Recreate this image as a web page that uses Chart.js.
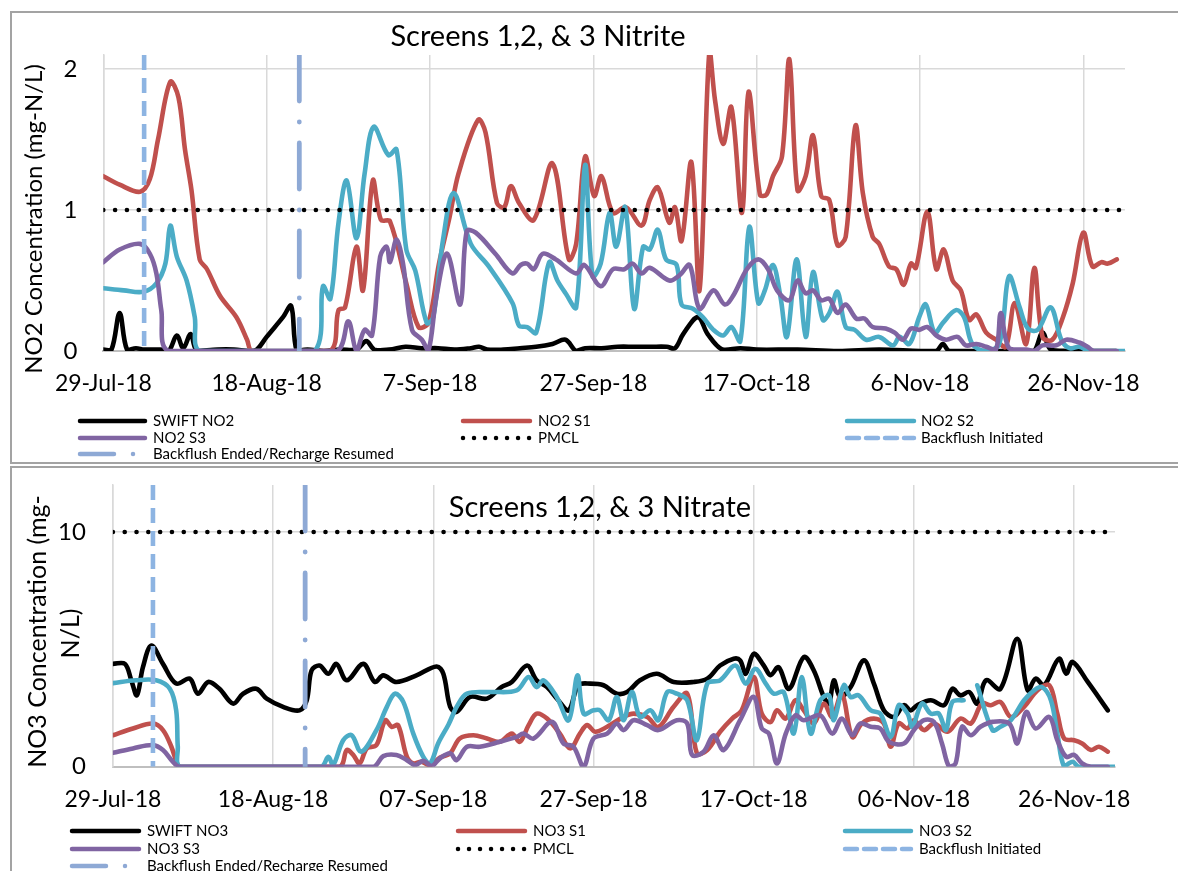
<!DOCTYPE html>
<html><head><meta charset="utf-8">
<script src="https://cdn.jsdelivr.net/npm/chart.js@4.4.1/dist/chart.umd.min.js"></script>
<style>
html,body{margin:0;padding:0;background:#fff;width:1178px;height:871px;overflow:hidden;}
.frame{position:absolute;border:2px solid #A3A3A3;box-sizing:border-box;}
#f1{left:10px;top:11px;width:1190px;height:453px;}
#f2{left:10px;top:466px;width:1190px;height:430px;}
.wrap{position:absolute;}
#w1{left:11px;top:13px;width:1167px;height:449px;}
#w2{left:11px;top:468px;width:1167px;height:403px;}
</style></head><body>
<div class="frame" id="f1"></div><div class="frame" id="f2"></div>
<div class="wrap" id="w1"><canvas id="c1" width="1167" height="449"></canvas></div>
<div class="wrap" id="w2"><canvas id="c2" width="1167" height="403"></canvas></div>
<script>
// ---------- shared axis data (days since 29-Jul-18) ----------
const xTickDays = [0, 20, 40, 60, 80, 100, 120];
const no2XTickLabels = ['29-Jul-18','18-Aug-18','7-Sep-18','27-Sep-18','17-Oct-18','6-Nov-18','26-Nov-18'];
const no3XTickLabels = ['29-Jul-18','18-Aug-18','07-Sep-18','27-Sep-18','17-Oct-18','06-Nov-18','26-Nov-18'];
const no2YTicks = [0, 1, 2];
const no3YTicks = [0, 10];

// ---------- Nitrite (NO2) ----------
const no2Names = ['SWIFT NO2','NO2 S1','NO2 S2','NO2 S3','PMCL','Backflush Initiated','Backflush Ended/Recharge Resumed'];
const swiftNo2Days = [0,1,2,2.9,4,5,7,8,9,9.8,10.7,11.5,14,16,18,18.8,20,22,23,23.7,25,27,29,31,32.2,33.2,35,37,39,41,43,45,46,47,49,51,53,55,56.6,57.9,59,61,63,65,67,69,70,71,72.8,74,75.8,78,80,85,90,95,100,102,102.8,103.6,108,113,114,115,116,118,121,124];
const swiftNo2Vals = [0.01,0.01,0.27,0.01,0.02,0.01,0.01,0,0.11,0.02,0.12,0,0.01,0.01,0,0.01,0.1,0.24,0.32,0,0.01,0,0.01,0.01,0.07,0.01,0.01,0.03,0.02,0.02,0.01,0.02,0.03,0.01,0.01,0.02,0.03,0.05,0.08,0,0.02,0.02,0.03,0.03,0.03,0.03,0.02,0.12,0.24,0.12,0.01,0.02,0.01,0.01,0,0.01,0,0,0.05,0,0,0,0,0.13,0.01,0,0,0];
const no2S1Days = [0,2,4.5,5.7,6.7,8.2,9.2,10,10.8,11.8,12.7,14.3,16.3,17.6,18.2,22,27.8,28.8,29.6,31,31.8,33,34,35.1,37.1,38.6,39.8,41.1,42.4,43.5,45.9,46.8,48.2,49.1,49.9,50.9,52.7,55,57,57.9,59,60.1,61,62.4,64,65.9,66.9,67.9,69.3,70,70.8,72,73,74.2,74.9,75.9,76.9,78.2,79,80.4,81.2,82,83.1,84,85,86,86.9,87.9,88.9,89.9,90.9,92.1,93,94.2,95,96.2,97.1,98,98.9,99.5,100.9,102,102.9,104,105,106,106.9,108.1,109.3,110.5,111.6,113,114,115,116.2,117.5,118.7,120,121.1,122.2,123,124.1];
const no2S1Vals = [1.24,1.18,1.13,1.22,1.5,1.91,1.8,1.43,1.14,0.65,0.58,0.39,0.24,0.08,0,0,0,0.29,0.31,0.74,0.43,1.21,0.93,0.92,0.48,0.17,0.2,0.62,0.95,1.26,1.64,1.55,1.05,1.02,1.17,1.05,0.93,1.33,0.65,0.76,1.38,1.1,1.24,0.98,1.02,0.89,1.07,1.16,0.91,1.02,0.78,1.34,0.43,2.12,1.78,1.47,1.73,0.98,1.84,1.11,1.11,1.24,1.38,2.07,1.14,1.24,1.53,1.1,1.07,0.75,0.81,1.6,1.12,0.81,0.76,0.6,0.58,0.47,0.62,0.59,0.99,0.58,0.72,0.5,0.43,0.22,0.26,0.13,0.08,0.03,0.34,0.05,0.59,0.1,0.08,0.24,0.48,0.84,0.6,0.63,0.62,0.65];
const no2S2Days = [0,2.5,4.9,6.5,7.6,8.2,9,10.2,11.2,11.8,20,25.9,26.9,27.8,28.8,29.8,31,32,33.1,34.9,35.9,37.1,38.2,39.6,40.4,41.6,42.9,45,47.2,50.1,50.9,51.9,53,54.6,55.6,56.6,57.9,59,59.9,60.9,62,62.8,63.9,65,66.1,66.9,67.9,68.9,70.2,70.8,72.2,73.4,74.7,75.9,76.9,78,79.1,80.2,81,82,82.9,83.7,84.9,86,86.9,88.1,88.9,89.9,90.9,92,93.4,95,96.7,97.5,98.7,99.9,100.7,101.8,102.8,104.4,105.4,106.4,108,109.7,110.9,112.2,113.2,114.4,116,117.3,118.3,119.5,120.7,125.1];
const no2S2Vals = [0.445,0.43,0.42,0.48,0.62,0.89,0.67,0.5,0.24,0,0,0,0.46,0.37,0.91,1.21,0.8,1.26,1.59,1.39,1.43,0.72,0.57,0.2,0.24,0.79,1.12,0.76,0.6,0.34,0.18,0.17,0.13,0.63,0.5,0.41,0.31,1.32,0.53,0.62,0.98,0.74,1.02,0.3,0.74,0.72,0.86,0.65,0.61,0.33,0.3,0.24,0.15,0.11,0.17,0.07,0.88,0.34,0.43,0.61,0.39,0.1,0.65,0.1,0.56,0.22,0.27,0.42,0.17,0.15,0.08,0.1,0.04,0.1,0.05,0.24,0.33,0.13,0.2,0.29,0.24,0.05,0,0.05,0.53,0.31,0.16,0.15,0.31,0.08,0.02,0.03,0,0];
const no2S3Days = [0,2,4.5,5.7,6.5,7.1,8,20,28.6,30,31,32,32.9,33.9,34.7,35.1,35.9,36.7,37.8,39,39.8,40.8,42.1,43.7,44.5,45.6,48,50.1,51.1,51.9,52.7,53.8,55.4,57.9,58.9,60.9,62.4,63.8,64.8,65.9,66.9,69.3,70.6,71.8,73,74.7,76.1,77.1,78.8,80.2,81.4,82.5,84,85,86,86.9,87.9,88.9,89.9,90.9,92.2,93.2,94.2,95.8,96.9,97.9,98.9,99.9,100.9,102,103.2,104.6,105.6,106.9,108.1,109.3,109.9,110.9,113,114,115,116.7,117.9,119.5,120.5,121.3,124.1];
const no2S3Vals = [0.63,0.72,0.76,0.69,0.55,0.29,0,0,0,0.21,0,0.15,0.11,0.67,0.74,0.63,0.79,0.62,0.15,0.08,0,0.39,0.69,0.33,0.85,0.84,0.69,0.55,0.61,0.62,0.58,0.69,0.65,0.55,0.61,0.46,0.58,0.58,0.62,0.55,0.59,0.5,0.54,0.61,0.3,0.43,0.33,0.39,0.58,0.65,0.58,0.43,0.36,0.5,0.41,0.43,0.36,0.37,0.27,0.33,0.23,0.23,0.17,0.16,0.13,0.08,0.16,0.15,0.17,0.11,0.08,0.1,0.04,0.05,0.03,0.01,0.27,0.02,0.01,0,0.04,0.04,0.08,0.06,0.03,0,0];
const no2PmclDays = [0, 125.1];
const no2PmclVals = [1, 1];
const no2InitDays = [5, 5];
const no2InitVals = [2.1, 0];
const no2EndDays = [24, 24];
const no2EndVals = [2.1, 0];

// ---------- Nitrate (NO3) ----------
const no3Names = ['SWIFT NO3','NO3 S1','NO3 S2','NO3 S3','PMCL','Backflush Initiated','Backflush Ended/Recharge Resumed'];
const swiftNo3Days = [0,1.5,2.3,3,3.75,4.8,6.25,7.9,9.6,10.6,11.9,13.3,15,16.25,17.9,19.2,21.25,23.3,24.2,24.8,25.8,26.9,27.9,29.2,31.25,32.7,33.75,35.4,37.9,40.4,41.25,42.1,42.9,44.6,46.7,48.5,49.8,51.7,52.9,54.2,55.6,56.9,58.1,59.6,61.25,62.9,64.2,65.8,67.9,70,72.5,74.2,75.8,77.5,78.3,79,80,81.25,82.1,83.1,84.4,86.25,87.5,88.75,89.4,90,90.8,92.1,93.75,95,96.25,97.5,98.75,99.6,100.4,102.1,103.75,104.8,105.8,106.9,107.9,109,110.8,112.9,114.2,115.2,116.25,118.1,119,119.8,121.7,124.2];
const swiftNo3Vals = [4.38,4.38,3.68,3.04,4.24,5.16,4.38,3.54,3.75,3.11,3.61,3.32,2.69,3.11,3.32,2.9,2.55,2.4,2.83,4.1,4.31,3.96,4.38,3.68,4.38,3.61,3.89,3.61,3.89,4.27,3.96,2.55,2.33,2.97,2.9,3.39,3.61,4.31,3.68,3.39,2.83,2.4,3.47,3.54,3.47,3.11,3.18,3.68,3.96,3.61,3.61,3.75,4.31,4.6,4.53,3.96,4.81,4.31,3.9,4.24,3.32,4.67,4.1,2.97,2.69,3.68,2.97,3.39,4.53,3.54,2.4,2.12,2.62,2.4,2.62,2.83,2.62,3.32,3.04,3.18,2.69,3.68,3.32,5.45,3.25,3.75,3.47,4.6,3.96,4.46,3.61,2.4];
const no3S1Days = [0,2.5,5,6.25,7.3,8.1,8.5,20,28.3,29.2,30,30.8,31.7,32.9,34,34.8,35.6,36.7,37.5,38.5,39.6,40.8,42.1,43.3,45,46.7,48.3,49.8,50.8,51.9,52.9,54.2,55.8,57.1,58.3,59.2,60.2,61.7,63.75,65,66.7,68.1,70,71.7,72.9,74.2,75.8,77.3,78.5,80,81,82.1,82.9,84,85.2,86.25,87.5,88.75,89.8,91,92.3,93.5,95,96.25,97.1,98.1,99.2,100,101.25,102.5,104.2,105.8,107.1,108.5,109.6,110.8,112.1,113.75,115.4,116.9,117.9,118.75,120,121,122.1,123.1,124.2];
const no3S1Vals = [1.34,1.63,1.84,1.56,0.85,0.07,0,0,0,0.71,0.5,0.14,0.78,0.92,1.98,1.7,1.77,0.42,0.14,0.21,0.07,0.38,0.57,1.2,1.34,1.2,1.06,1.41,1.06,1.77,2.26,2.05,1.41,0.78,1.41,1.77,1.49,1.7,2.12,2.26,2.12,1.7,2.55,3.11,0.57,0.71,1.49,2.05,2.4,3.82,2.26,1.9,2.4,2.05,2.83,2.4,1.84,2.69,2.12,3.11,1.27,1.84,2.05,1.84,0.85,1.84,1.63,1.98,1.56,1.84,1.49,2.05,1.84,2.69,2.62,2.76,2.12,2.55,3.25,3.47,2.26,1.2,1.13,0.99,0.71,0.85,0.64];
const no3S2Days = [0,2.9,5.4,7.1,7.9,8.1,8.4,20,26,26.9,27.5,28.75,29.8,31,32.9,34.2,35.2,36.25,37.5,38.75,39.6,40.6,41.9,43,44.2,47.1,50.4,51.9,52.9,53.75,55.4,56.9,58,58.75,60,60.8,61.9,62.9,63.75,64.8,65.8,67.1,68.1,69.2,70.4,71.7,72.9,74.2,75.8,77.7,79,80.2,81.5,82.5,83.75,85,86,87.1,88.3,89.4,90,91.25,92.1,93.1,94.6,95.8,97.1,98.1,99.2,99.8,101,102.1,103.1,104,104.8,106.2,107,107.9,109.8,110.8,112.1,113.75,115,116,117.1,117.9,118.75,119.8,120.6,125.1];
const no3S2Vals = [3.56,3.68,3.68,3.32,2.4,0.85,0,0,0,0.42,0.07,1.13,1.34,0.64,1.56,2.55,3.11,2.76,1.41,0.42,0.14,0.99,1.8,2.6,3.11,3.18,3.25,3.82,3.39,3.68,2.97,1.98,3.89,2.26,2.4,2.4,1.98,2.97,1.98,3.18,2.12,2.4,1.98,3.18,3.11,2.83,1.13,3.54,3.68,4.31,3.54,4.17,3.54,3.11,3.18,1.41,3.82,1.41,2.83,3.04,1.98,3.47,2.97,3.04,2.4,2.26,1.27,2.62,2.26,1.7,2.69,2.26,2.26,1.56,2.76,2.83,null,3.47,1.56,1.7,1.98,2.83,3.25,3.39,2.83,1.41,0,0.21,0,0];
const no3S3Days = [0,2.5,5,6.25,7.5,8.3,20,32.5,33.75,35.4,36.7,37.7,38.75,39.8,40.8,42.1,42.9,44.2,45.8,48.3,50.4,51.25,52.5,54.8,56.25,57.5,58.75,60,61.7,62.9,63.75,65,66.7,68.1,70.4,71.7,72.3,73.75,75,76.25,78.3,80,81,81.9,82.9,84,85.2,86.25,88.3,89.8,91,92.3,93.3,94.6,95.8,96.9,98.75,100,101.25,102.5,103.5,104.4,105.2,106,107.1,108.3,109.8,111.9,112.9,114,115.2,116.9,117.9,119,120,121,122.1,124.2];
const no3S3Vals = [0.59,0.78,0.92,0.71,0.21,0,0,0,0.45,0.5,0.28,0.07,0.25,0.03,0.35,0.57,0.28,0.85,0.85,1.06,1.27,1.41,1.2,1.91,0.99,0.85,0,1.2,1.41,1.84,1.56,1.98,1.77,1.56,1.98,1.84,0.5,0.64,1.34,0.71,1.98,2.97,1.63,1.41,0.14,1.41,2.19,1.98,2.19,1.41,2.05,1.34,1.84,1.7,1.63,1.06,0.99,1.56,1.98,1.91,0.99,0,0.14,1.7,1.34,1.7,1.91,1.84,0.99,2.33,1.63,2.12,1.13,0.42,0.5,0.14,0,0];
const no3PmclDays = [0, 125.1];
const no3PmclVals = [10, 10];
const no3InitDays = [5, 5];
const no3InitVals = [12, 0];
const no3EndDays = [24, 24];
const no3EndVals = [12, 0];

// ---------- styling ----------
const COLORS = ['#000000', '#C0504D', '#4BACC6', '#8064A2', '#000000', '#8DB4E2', '#8EA9D5'];
const FONT = 'Lato';
const pts = (d, v) => d.map((x, i) => ({x: x, y: v[i]}));

function seriesDatasets(names, series) {
  return series.map((s, i) => {
    const base = {label: names[i], data: pts(s[0], s[1]), showLine: true, pointRadius: 0, pointHoverRadius: 0,
      borderColor: COLORS[i], backgroundColor: COLORS[i], borderWidth: 4.6, fill: false, spanGaps: false,
      order: 10 - i, borderJoinStyle: 'round', borderCapStyle: 'round', tension: 0.35};
    if (i === 4) Object.assign(base, {tension: 0, borderDash: [0.01, 11.8], borderCapStyle: 'round'});
    if (i === 5) Object.assign(base, {tension: 0, borderDash: [15, 8], borderCapStyle: 'butt'});
    if (i === 6) Object.assign(base, {tension: 0, borderDash: [46, 21, 0.01, 21], borderCapStyle: 'round', borderWidth: 4.8});
    return base;
  });
}

function legendPlugin(rows, cols) {
  return {id: 'sheetLegend', afterDraw(chart) {
    const ctx = chart.ctx; ctx.save();
    chart.data.datasets.forEach((ds, i) => {
      const r = Math.floor(i / 3), c = i % 3, y = rows[r], [x1, x2, tx] = cols[c];
      ctx.strokeStyle = ds.borderColor; ctx.lineWidth = 4.5;
      if (i === 4) { ctx.setLineDash([0.01, 11]); ctx.lineCap = 'round'; ctx.beginPath(); ctx.moveTo(x1 + 2, y); ctx.lineTo(x2, y); ctx.stroke(); }
      else if (i === 5) { ctx.setLineDash([12, 7]); ctx.lineCap = 'round'; ctx.beginPath(); ctx.moveTo(x1 + 2, y); ctx.lineTo(x2 - 2, y); ctx.stroke(); }
      else if (i === 6) { ctx.setLineDash([34, 19, 0.01, 40]); ctx.lineCap = 'round'; ctx.beginPath(); ctx.moveTo(x1 + 2, y); ctx.lineTo(x2, y); ctx.stroke(); }
      else { ctx.setLineDash([]); ctx.lineCap = 'round'; ctx.beginPath(); ctx.moveTo(x1 + 2, y); ctx.lineTo(x2 - 2, y); ctx.stroke(); }
      ctx.setLineDash([]);
      ctx.fillStyle = '#000'; ctx.font = '15px ' + FONT; ctx.textAlign = 'left'; ctx.textBaseline = 'middle';
      ctx.fillText(ds.label, tx, y + 0.5);
    });
    ctx.restore();
  }};
}

function textPlugin(texts) {
  return {id: 'sheetTexts', afterDraw(chart) {
    const ctx = chart.ctx;
    texts.forEach(t => {
      ctx.save(); ctx.translate(t.x, t.y); ctx.rotate(t.rot || 0);
      ctx.font = t.font; ctx.fillStyle = '#000'; ctx.textAlign = 'center'; ctx.textBaseline = 'alphabetic';
      ctx.fillText(t.text, 0, 0); ctx.restore();
    });
  }};
}

function makeChart(canvasId, cfg) {
  const xScale = {
    type: 'linear', min: 0, max: 125.1,
    afterBuildTicks: s => { s.ticks = xTickDays.map(v => ({value: v})); },
    afterFit: s => { s.height = 60; s.paddingLeft = 0; s.paddingRight = 0; },
    ticks: {callback: v => cfg.xLabels[xTickDays.indexOf(v)], font: {family: FONT, size: 23}, color: '#000', padding: 19, maxRotation: 0, autoSkip: false},
    grid: {color: '#D9D9D9', lineWidth: 1.5, drawTicks: false},
    border: {color: '#BFBFBF', width: 2}
  };
  const yScale = {
    type: 'linear', min: 0, max: cfg.yMax,
    afterBuildTicks: s => { s.ticks = cfg.yTicks.map(v => ({value: v})); },
    afterFit: s => { s.width = cfg.yWidth; s.paddingTop = 0; s.paddingBottom = 0; },
    ticks: {callback: v => String(v), font: {family: FONT, size: 24}, color: '#000', padding: cfg.yPad},
    grid: {color: '#D9D9D9', lineWidth: 1.5, drawTicks: false},
    border: {color: '#D9D9D9', width: 1.5}
  };
  return new Chart(document.getElementById(canvasId), {
    type: 'scatter',
    data: {datasets: seriesDatasets(cfg.names, cfg.series)},
    options: {
      responsive: false, animation: false, events: [],
      layout: {padding: cfg.padding},
      scales: {x: xScale, y: yScale},
      plugins: {legend: {display: false}, tooltip: {enabled: false}, title: {display: false}}
    },
    plugins: [legendPlugin(cfg.legendRows, cfg.legendCols), textPlugin(cfg.texts)]
  });
}

function build() {
  makeChart('c1', {
    names: no2Names,
    series: [[swiftNo2Days, swiftNo2Vals], [no2S1Days, no2S1Vals], [no2S2Days, no2S2Vals], [no2S3Days, no2S3Vals],
             [no2PmclDays, no2PmclVals], [no2InitDays, no2InitVals], [no2EndDays, no2EndVals]],
    xLabels: no2XTickLabels, yTicks: no2YTicks, yMax: 2.1, yWidth: 92.3, yPad: 26,
    padding: {left: 0, top: 42, right: 53, bottom: 51},
    legendRows: [408, 425, 441],
    legendCols: [[67, 136, 142], [450, 521, 527], [834, 905, 910]],
    texts: [
      {text: 'Screens 1,2, & 3 Nitrite', x: 527, y: 33, font: '29px ' + FONT},
      {text: 'NO2 Concentration (mg-N/L)', x: 31, y: 206, rot: -Math.PI / 2, font: '24px ' + FONT}
    ]
  });
  makeChart('c2', {
    names: no3Names,
    series: [[swiftNo3Days, swiftNo3Vals], [no3S1Days, no3S1Vals], [no3S2Days, no3S2Vals], [no3S3Days, no3S3Vals],
             [no3PmclDays, no3PmclVals], [no3InitDays, no3InitVals], [no3EndDays, no3EndVals]],
    xLabels: no3XTickLabels, yTicks: no3YTicks, yMax: 12, yWidth: 101.9, yPad: 27,
    padding: {left: 0, top: 17, right: 63, bottom: 44.3},
    legendRows: [363, 381, 398],
    legendCols: [[59, 130, 136], [445, 516, 522], [832, 902, 908]],
    texts: [
      {text: 'Screens 1,2, & 3 Nitrate', x: 589, y: 49, font: '29px ' + FONT},
      {text: 'NO3 Concentration (mg-', x: 35, y: 163.5, rot: -Math.PI / 2, font: '25px ' + FONT},
      {text: 'N/L)', x: 67.5, y: 165.5, rot: -Math.PI / 2, font: '25px ' + FONT}
    ]
  });
}
if (document.fonts && document.fonts.load) {
  Promise.all([document.fonts.load('24px Lato'), document.fonts.load('15px Lato')]).then(build, build);
} else { build(); }
</script>
</body></html>
